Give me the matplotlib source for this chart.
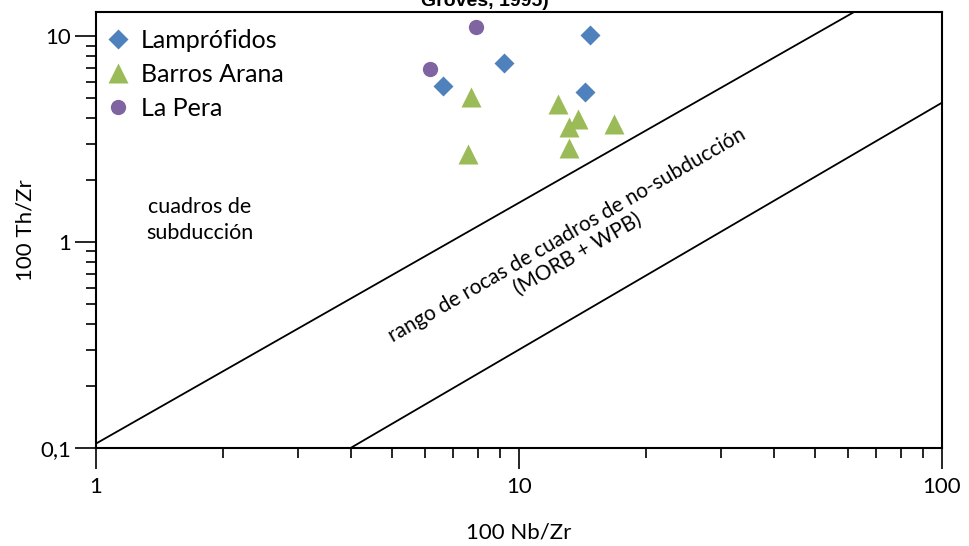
import matplotlib.pyplot as plt
from matplotlib.ticker import LogLocator, FixedFormatter, FixedLocator, NullFormatter

plt.rcParams['font.family'] = ['Lato', 'DejaVu Sans']

# 100 Nb/Zr vs 100 Th/Zr for each group
lamp_x = [6.6, 9.2, 14.7, 14.3]
lamp_y = [5.7, 7.4, 10.1, 5.35]

barros_x = [7.7, 7.6, 12.4, 13.8, 13.1, 16.8, 13.1]
barros_y = [5.07, 2.67, 4.68, 3.95, 3.63, 3.74, 2.85]

pera_x = [7.9, 6.15]
pera_y = [11.1, 6.9]

# limits of the non-subduction field
upper_x = [1, 62]
upper_y = [0.105, 13.1]
lower_x = [4, 100]
lower_y = [0.1, 4.75]

fig = plt.figure(figsize=(9.69, 5.46), dpi=100)
ax = fig.add_axes([0.099, 0.1795, 0.873, 0.7985])

ax.plot(upper_x, upper_y, color="black", lw=1.3)
ax.plot(lower_x, lower_y, color="black", lw=1.3)

ax.plot(lamp_x, lamp_y, "D", color="#4F81BD", ms=10, mec="none", label="Lampr\u00f3fidos")
ax.plot(barros_x, barros_y, "^", color="#9BBB59", ms=14, mec="none", label="Barros Arana")
ax.plot(pera_x, pera_y, "o", color="#8064A2", ms=11, mec="none", label="La Pera")

ax.set_xscale("log")
ax.set_yscale("log")
ax.set_xlim(1, 100)
ax.set_ylim(0.1, 13.1)

ax.xaxis.set_major_locator(FixedLocator([1, 10, 100]))
ax.xaxis.set_major_formatter(FixedFormatter(["1", "10", "100"]))
ax.xaxis.set_minor_locator(LogLocator(base=10, subs=range(2, 10)))
ax.xaxis.set_minor_formatter(NullFormatter())
ax.yaxis.set_major_locator(FixedLocator([0.1, 1, 10]))
ax.yaxis.set_major_formatter(FixedFormatter(["0,1", "1", "10"]))
ax.yaxis.set_minor_locator(LogLocator(base=10, subs=range(2, 10)))
ax.yaxis.set_minor_formatter(NullFormatter())

ax.tick_params(which="major", direction="out", length=15, width=1.2, labelsize=16)
ax.tick_params(which="minor", direction="out", length=7, width=1.2)
ax.tick_params(axis="x", which="major", pad=6)
ax.tick_params(axis="y", which="major", pad=3)
for s in ax.spines.values():
    s.set_linewidth(1.5)

ax.set_xlabel("100 Nb/Zr", fontsize=16, labelpad=18)
ax.set_ylabel("100 Th/Zr", fontsize=16, labelpad=3)

ax.text(0.123, 0.523, "cuadros de\nsubducci\u00f3n", transform=ax.transAxes,
        ha="center", va="center", fontsize=15.5, linespacing=1.35)
ax.text(0.563, 0.466, "rango de rocas de cuadros de no-subducci\u00f3n\n(MORB + WPB)",
        transform=ax.transAxes, ha="center", va="center", rotation=30,
        rotation_mode="anchor", fontsize=15, linespacing=1.15)

ax.legend(loc="upper left", bbox_to_anchor=(0.0, 0.985), frameon=False,
          fontsize=18, handletextpad=0.4, labelspacing=0.45,
          borderaxespad=0.0, handlelength=1.0)

fig.text(0.5, 0.989, "Groves, 1995)", ha="center", va="baseline",
         fontsize=14, fontweight="bold", family="Liberation Sans")

fig.savefig("out.png", dpi=100)
